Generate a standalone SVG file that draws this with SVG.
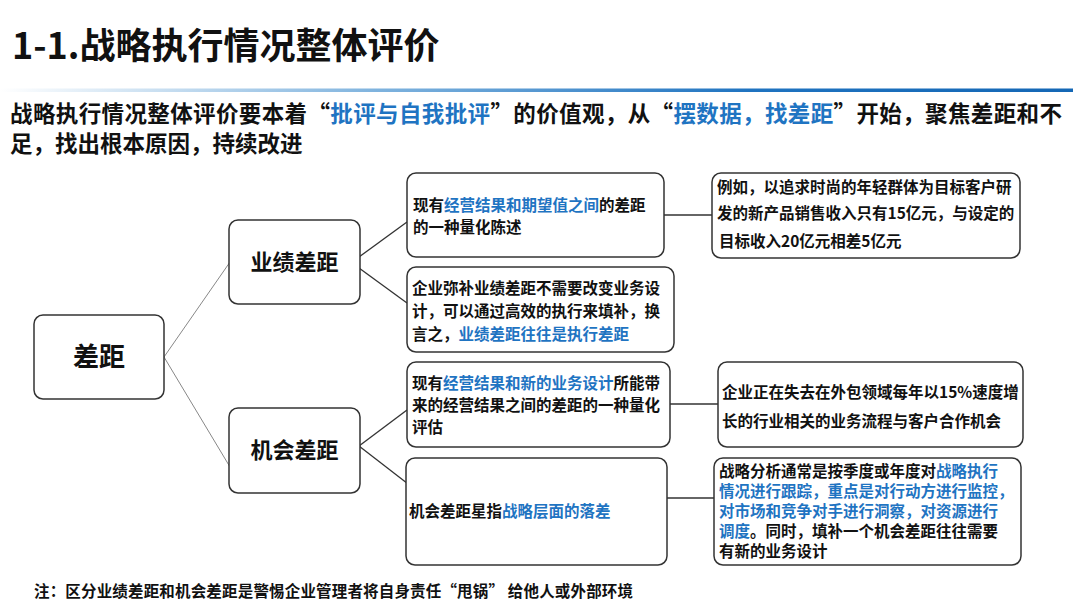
<svg xmlns="http://www.w3.org/2000/svg" width="1080" height="610" viewBox="0 0 1080 610">
<defs>
<linearGradient id="bar" x1="0" y1="0" x2="1" y2="0">
<stop offset="0" stop-color="#ffffff"/>
<stop offset="0.35" stop-color="#7fb3de"/>
<stop offset="0.7" stop-color="#1f73c0"/>
<stop offset="1" stop-color="#1467b5"/>
</linearGradient>
</defs>
<style>
text{font-family:"Noto Sans CJK SC","Liberation Sans",sans-serif;font-weight:bold;fill:#111}
.b{fill:#1f74c2}
.box{fill:#fff;stroke:#333;stroke-width:1.5}
.t{font-size:15.5px}
.conn line{stroke:#333;stroke-width:1.3}
.conn line.g{stroke:#888;stroke-width:1}
</style>
<rect x="0" y="0" width="1080" height="610" fill="#fff"/>
<text x="12" y="59" font-size="36" font-weight="900">1-1.战略执行情况整体评价</text>
<rect x="0" y="88.5" width="1073" height="3.5" fill="url(#bar)"/>
<text x="10" y="122" font-size="22.5" textLength="1052" lengthAdjust="spacing">战略执行情况整体评价要本着“<tspan class="b">批评与自我批评</tspan>”的价值观，从“<tspan class="b">摆数据，找差距</tspan>”开始，聚焦差距和不</text>
<text x="10" y="152" font-size="22.5">足，找出根本原因，持续改进</text>

<g class="conn">
<line class="g" x1="164" y1="357" x2="230" y2="262"/>
<line class="g" x1="164" y1="357" x2="230" y2="467"/>
<line x1="359" y1="257" x2="407" y2="222"/>
<line x1="359" y1="268" x2="407" y2="303"/>
<line x1="359" y1="446" x2="407" y2="410"/>
<line x1="359" y1="446" x2="412" y2="487"/>
<line x1="664" y1="215" x2="712" y2="215"/>
<line x1="670" y1="404" x2="718" y2="404"/>
<line x1="667" y1="498" x2="714" y2="498"/>
</g>

<g id="root">
<rect class="box" x="34" y="315" width="130" height="84" rx="9"/>
<text x="99" y="366" font-size="26" text-anchor="middle">差距</text>
</g>
<g id="perf">
<rect class="box" x="229" y="220" width="131" height="84" rx="9"/>
<text x="294.5" y="270" font-size="22" text-anchor="middle">业绩差距</text>
</g>
<g id="opp">
<rect class="box" x="229" y="408" width="131" height="85" rx="9"/>
<text x="294.5" y="458" font-size="22" text-anchor="middle">机会差距</text>
</g>

<g id="boxA">
<rect class="box" x="407" y="173" width="257" height="84" rx="9"/>
<text class="t" x="413" y="211">现有<tspan class="b">经营结果和期望值之间</tspan>的差距</text>
<text class="t" x="413" y="233">的一种量化陈述</text>
</g>
<g id="boxC">
<rect class="box" x="712" y="173" width="308" height="85" rx="9"/>
<text class="t" x="717" y="193">例如，以追求时尚的年轻群体为目标客户研</text>
<text class="t" x="717" y="219">发的新产品销售收入只有15亿元，与设定的</text>
<text class="t" x="719" y="247">目标收入20亿元相差5亿元</text>
</g>
<g id="boxB">
<rect class="box" x="407" y="267" width="267" height="85" rx="9"/>
<text class="t" x="412" y="294">企业弥补业绩差距不需要改变业务设</text>
<text class="t" x="412" y="317">计，可以通过高效的执行来填补，换</text>
<text class="t" x="412" y="340">言之，<tspan class="b">业绩差距往往是执行差距</tspan></text>
</g>
<g id="boxD">
<rect class="box" x="407" y="362" width="263" height="85" rx="9"/>
<text class="t" x="412" y="389">现有<tspan class="b">经营结果和新的业务设计</tspan>所能带</text>
<text class="t" x="412" y="411">来的经营结果之间的差距的一种量化</text>
<text class="t" x="412" y="433">评估</text>
</g>
<g id="boxE">
<rect class="box" x="718" y="362" width="305" height="85" rx="9"/>
<text class="t" x="722" y="398">企业正在失去在外包领域每年以15%速度增</text>
<text class="t" x="722" y="427">长的行业相关的业务流程与客户合作机会</text>
</g>
<g id="boxF">
<rect class="box" x="406" y="458" width="261" height="107" rx="9"/>
<text class="t" x="409" y="517">机会差距星指<tspan class="b">战略层面的落差</tspan></text>
</g>
<g id="boxG">
<rect class="box" x="714" y="458" width="307" height="107" rx="9"/>
<text class="t" x="719" y="477">战略分析通常是按季度或年度对<tspan class="b">战略执行</tspan></text>
<text class="t b" x="719" y="497">情况进行跟踪，重点是对行动方进行监控，</text>
<text class="t b" x="719" y="517">对市场和竞争对手进行洞察，对资源进行</text>
<text class="t" x="719" y="537"><tspan class="b">调度</tspan>。同时，填补一个机会差距往往需要</text>
<text class="t" x="719" y="557">有新的业务设计</text>
</g>

<text x="34" y="597" font-size="15.5" textLength="599" lengthAdjust="spacing">注：区分业绩差距和机会差距是警惕企业管理者将自身责任“甩锅” 给他人或外部环境</text>
</svg>
